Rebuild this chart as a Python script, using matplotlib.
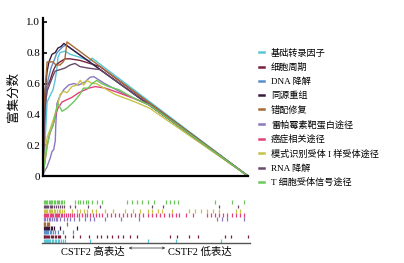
import matplotlib
matplotlib.use("Agg")
import matplotlib.pyplot as plt

plt.rcParams['font.family'] = ['Liberation Serif', 'Noto Sans CJK SC']

# pathway names and colours (legend order)
names = ["基础转录因子", "细胞周期", "DNA 降解", "同源重组", "错配修复",
         "雷帕霉素靶蛋白途径", "癌症相关途径", "模式识别受体 I 样受体途径",
         "RNA 降解", "T 细胞受体信号途径"]
colors = ["#58c6d6", "#7a1f3c", "#5a8ec6", "#3a1a3c", "#a66a36",
          "#8a78c0", "#e4407c", "#c8c24a", "#6a4a6a", "#6cc85c"]

# running enrichment score, x = position in ranked list (%)
cyan_x = [0, 0.5, 1, 2, 3.4, 4.9, 5.9, 6.8, 7.3, 8.3, 10.7, 13.2, 18, 22, 23.4, 23.9, 100]
cyan_y = [0, 0.1, 0.22, 0.48, 0.52, 0.56, 0.62, 0.7, 0.77, 0.8, 0.81, 0.79, 0.77, 0.75, 0.75, 0.765, 0]
cycle_x = [0, 0.5, 1, 2, 3.4, 4.9, 6.3, 8.3, 10.7, 13.2, 18, 27.8, 100]
cycle_y = [0, 0.3, 0.5, 0.58, 0.62, 0.68, 0.72, 0.74, 0.76, 0.76, 0.75, 0.71, 0]
dna_x = [0, 0.5, 1.5, 2.4, 3.9, 5.4, 6.8, 8.3, 9.8, 11.2, 100]
dna_y = [0, 0.25, 0.5, 0.62, 0.7, 0.75, 0.8, 0.82, 0.84, 0.85, 0]
homo_x = [0, 0.5, 1, 2, 2.9, 4.4, 5.9, 7.3, 8.8, 10.2, 100]
homo_y = [0, 0.35, 0.55, 0.68, 0.74, 0.79, 0.8, 0.83, 0.84, 0.86, 0]
mmr_x = [0, 0.5, 1, 2, 4.9, 6.3, 8.3, 9.8, 10.7, 11.7, 100]
mmr_y = [0, 0.3, 0.55, 0.74, 0.74, 0.72, 0.72, 0.74, 0.76, 0.87, 0]
mtor_x = [0, 0.3, 2, 2.8, 3.6, 4.4, 5.2, 6, 6.2, 6.8, 8.3, 10.1, 12.5, 15, 17.4, 20.5,
          22.9, 24.7, 30, 40, 52, 100]
mtor_y = [0, 0.02, 0.06, 0.09, 0.12, 0.16, 0.17, 0.23, 0.32, 0.47, 0.52, 0.56, 0.59, 0.6,
          0.59, 0.61, 0.64, 0.645, 0.6, 0.53, 0.46, 0]
cancer_x = [0, 1, 2, 3.4, 4.9, 6.3, 7.3, 8.3, 9.3, 10.9, 14.1, 17.4, 22.3, 25.5, 30.4,
            36.9, 45, 52, 100]
cancer_y = [0, 0.1, 0.2, 0.28, 0.33, 0.4, 0.44, 0.46, 0.48, 0.49, 0.51, 0.54, 0.57, 0.58,
            0.57, 0.54, 0.5, 0.46, 0]
prr_x = [0, 0.5, 1, 2, 3.4, 4.9, 6.3, 7.3, 8.4, 10.1, 11.7, 14.1, 16.6, 18.2, 19.8, 21.5,
         23.9, 26, 35, 45, 52, 100]
prr_y = [0, 0.08, 0.15, 0.25, 0.3, 0.36, 0.42, 0.47, 0.53, 0.55, 0.54, 0.58, 0.59, 0.62,
         0.59, 0.62, 0.6, 0.6, 0.53, 0.48, 0.44, 0]
rna_x = [0, 0.5, 1, 2, 3.4, 4.9, 5.9, 8.3, 10.7, 13.2, 15.6, 18, 22, 27.8, 100]
rna_y = [0, 0.25, 0.45, 0.55, 0.6, 0.65, 0.68, 0.69, 0.7, 0.72, 0.73, 0.71, 0.7, 0.69, 0]
tcr_x = [0, 0.5, 1, 2, 3.4, 4.9, 6.8, 7.3, 8.5, 9.3, 11.7, 14.1, 15.6, 18, 19.7, 22, 23.9,
         26.3, 28.5, 32, 37, 45, 52, 100]
tcr_y = [0, 0.05, 0.1, 0.19, 0.28, 0.33, 0.45, 0.47, 0.44, 0.42, 0.44, 0.47, 0.49, 0.53,
         0.57, 0.57, 0.6, 0.62, 0.6, 0.58, 0.56, 0.5, 0.46, 0]

curves = [(cyan_x, cyan_y), (cycle_x, cycle_y), (dna_x, dna_y), (homo_x, homo_y),
          (mmr_x, mmr_y), (mtor_x, mtor_y), (cancer_x, cancer_y), (prr_x, prr_y),
          (rna_x, rna_y), (tcr_x, tcr_y)]

# gene hit positions (%), one list per pathway
cyan_hits = [0.3, 0.8, 1.3, 1.9, 2.5, 3.1, 3.6, 4.2, 5, 5.8, 6.5, 7.3, 8, 8.8, 9.6, 10.5, 23, 51, 65, 87]
cycle_hits = [0.3, 0.7, 1.2, 1.6, 2.1, 2.6, 3.1, 3.7, 4.3, 5, 5.7, 6.4, 7.2, 8, 8.5, 10.5,
              14.5, 18, 22.5, 26.5, 28.5, 31, 33.5, 36.5, 39, 42.5, 46, 62, 65.5, 71, 75.5, 89, 91.5, 100]
dna_hits = [0.3, 0.8, 1.4, 2, 2.6, 3.3, 4, 4.8, 5.6, 7.3, 9.8, 14.5]
homo_hits = [0.3, 0.8, 1.3, 1.9, 2.5, 3.1, 3.8, 4.6, 5.4, 8.3, 16.5]
mmr_hits = [0.3, 0.7, 1.2, 1.7, 2.2, 2.8, 11.5]
mtor_hits = [0.4, 1.2, 2, 2.8, 3.6, 4.5, 5.5, 6.2, 6.8, 8.3, 10.1, 11.5, 13.2, 15, 17.4,
             20.5, 22.9, 24.7, 30, 38, 47, 85, 87.5, 90, 98]
cancer_hits = [0.3, 0.9, 1.5, 2, 2.6, 3.2, 3.8, 4.4, 5, 5.6, 6.2, 6.8, 7.4, 8, 8.7, 9.4,
               10.2, 11, 12, 13, 14, 15.2, 16.5, 17.5, 19, 20.3, 21.5, 23, 24.5, 26, 27.5, 29,
               31, 33, 35, 37, 39, 41, 43, 45, 47, 49, 51, 53, 55, 57, 59, 61.5, 63, 65,
               66.5, 70, 73, 80, 82, 84, 86, 88, 90, 92, 94, 96, 98]
prr_hits = [0.3, 0.9, 1.5, 2.1, 2.7, 3.3, 3.9, 4.6, 5.3, 6, 6.8, 7.6, 8.4, 9.3, 10.2,
            14, 16.5, 18.2, 19.8, 21.5, 23.9, 26, 30, 34, 40, 44, 47.5, 51, 53, 56, 58,
            63, 71, 74, 77, 80, 83, 86, 94, 96]
rna_hits = [0.3, 0.8, 1.4, 2, 2.6, 3.2, 3.9, 4.6, 5.4, 6.3, 7.2, 8.2, 9.3, 10.3, 13.2,
            15.6, 22, 28, 53, 58.5, 86, 95]
tcr_hits = [0.3, 0.9, 1.5, 2.1, 2.7, 3.3, 3.9, 4.5, 5.2, 6, 6.8, 7.3, 7.9, 8.6, 9.4, 10.3,
            15.6, 17, 18, 19.7, 21, 22, 23.9, 26.3, 29, 41, 43.5, 46, 48.5, 51, 54, 60,
            62, 64, 66, 84, 92, 98]

hits = [cyan_hits, cycle_hits, dna_hits, homo_hits, mmr_hits, mtor_hits, cancer_hits,
        prr_hits, rna_hits, tcr_hits]

fig = plt.figure(figsize=(4.04, 2.63), dpi=100)

ax = fig.add_axes([43 / 404, 1 - 176 / 263, 205 / 404, 158 / 263])
for (x, y), c, n in zip(curves, colors, names):
    ax.plot(x, y, color=c, lw=1.0, label=n)
ax.set_xlim(0, 100)
ax.set_ylim(0, 1.025)
ax.set_yticks([0, 0.2, 0.4, 0.6, 0.8, 1.0])
ax.set_yticklabels(["0", "0.2", "0.4", "0.6", "0.8", "1.0"])
ax.set_xticks([])
ax.tick_params(axis='y', direction='in', length=3, width=1.2, labelsize=8, pad=2)
for s in ["top", "right"]:
    ax.spines[s].set_visible(False)
ax.spines["left"].set_linewidth(1.6)
ax.spines["bottom"].set_linewidth(1.6)
ax.set_ylabel("富集分数", fontsize=9, labelpad=5)

leg = ax.legend(loc="upper left", bbox_to_anchor=(1.035, 0.83), frameon=False,
                fontsize=6.6, handlelength=0.6, handletextpad=0.7,
                labelspacing=0.6, borderaxespad=0)
for line in leg.get_lines():
    line.set_linewidth(1.8)

# hit ticks
ax2 = fig.add_axes([42 / 404, 1 - 243 / 263, 208 / 404, 43 / 263])
for i, (h, c) in enumerate(zip(hits, colors)):
    ax2.vlines(h, i + 0.05, i + 0.95, color=c, lw=0.9)
ax2.set_xlim(-0.5, 101)
ax2.set_ylim(0, 10)
ax2.set_xticks([])
ax2.set_yticks([])
for s in ["top", "right", "left"]:
    ax2.spines[s].set_visible(False)
ax2.spines["bottom"].set_linewidth(1.0)
ax2.spines["bottom"].set_color("#555555")

fig.text(93 / 404, 1 - 252 / 263, "CSTF2 高表达", ha="center", va="center", fontsize=7.5)
fig.text(200 / 404, 1 - 252 / 263, "CSTF2 低表达", ha="center", va="center", fontsize=7.5)
fig.add_artist(matplotlib.patches.FancyArrowPatch(
    (126 / 404, 1 - 248 / 263), (168 / 404, 1 - 248 / 263), transform=fig.transFigure,
    arrowstyle="<->", mutation_scale=4, lw=0.5, linestyle=(0, (1, 0.6)), color="#333333"))

fig.savefig("out.png", dpi=100)
